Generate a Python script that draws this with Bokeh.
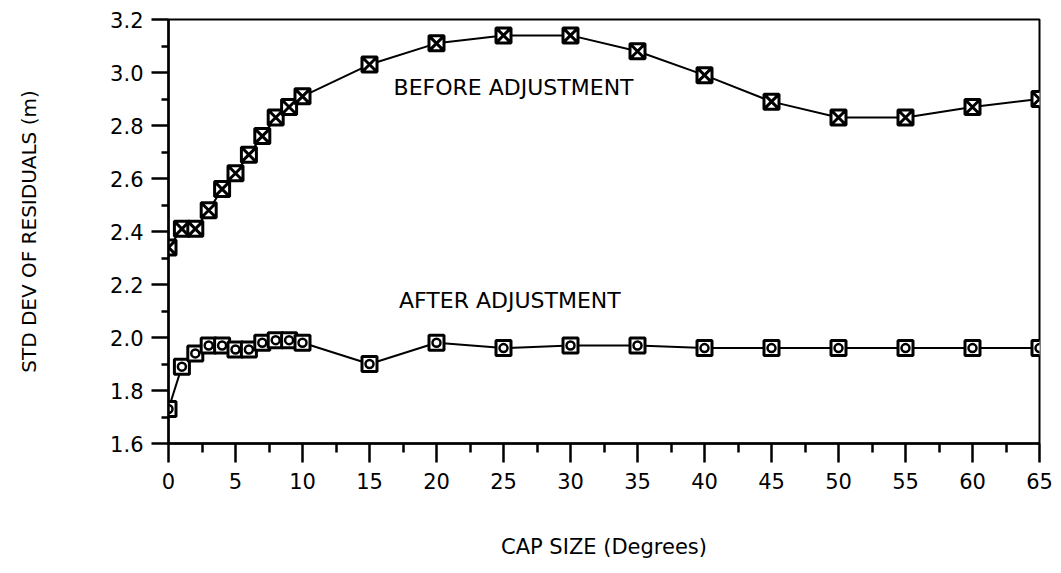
from bokeh.plotting import figure
from bokeh.models import FixedTicker, PrintfTickFormatter, Label, Range1d
from bokeh.embed import file_html
from bokeh.resources import INLINE

cap_size = [0, 1, 2, 3, 4, 5, 6, 7, 8, 9, 10, 15, 20, 25, 30, 35, 40, 45, 50, 55, 60, 65]
before_adj = [2.34, 2.41, 2.41, 2.48, 2.56, 2.62, 2.69, 2.76, 2.83, 2.87, 2.91, 3.03,
              3.11, 3.14, 3.14, 3.08, 2.99, 2.89, 2.83, 2.83, 2.87, 2.90]
after_adj = [1.73, 1.89, 1.94, 1.97, 1.97, 1.955, 1.955, 1.98, 1.99, 1.99, 1.98, 1.90,
             1.98, 1.96, 1.97, 1.97, 1.96, 1.96, 1.96, 1.96, 1.96, 1.96]
x_ticks = [0, 5, 10, 15, 20, 25, 30, 35, 40, 45, 50, 55, 60, 65]
x_minor = [2.5, 7.5, 12.5, 17.5, 22.5, 27.5, 32.5, 37.5, 42.5, 47.5, 52.5, 57.5, 62.5]
y_ticks = [1.6, 1.8, 2.0, 2.2, 2.4, 2.6, 2.8, 3.0, 3.2]
y_minor = [1.7, 1.9, 2.1, 2.3, 2.5, 2.7, 2.9, 3.1]
x_title = "CAP SIZE (Degrees)"
y_title = "STD DEV OF RESIDUALS (m)"
label_before = "BEFORE ADJUSTMENT"
label_after = "AFTER ADJUSTMENT"

FONT = "DejaVu Sans"

p = figure(width=1061, height=573, output_backend="svg", toolbar_location=None,
           x_range=Range1d(0, 65), y_range=Range1d(1.6, 3.2),
           min_border_left=168, min_border_right=22, min_border_top=19,
           min_border_bottom=130)
p.background_fill_color = "white"
p.border_fill_color = "white"
p.outline_line_color = "black"
p.outline_line_width = 2
p.grid.visible = False

p.xaxis.ticker = FixedTicker(ticks=x_ticks, minor_ticks=x_minor)
p.yaxis.ticker = FixedTicker(ticks=y_ticks, minor_ticks=y_minor)
p.yaxis.formatter = PrintfTickFormatter(format="%.1f")

for ax in (p.xaxis[0], p.yaxis[0]):
    ax.axis_line_width = 2.5
    ax.axis_line_color = "black"
    ax.major_tick_line_width = 2.5
    ax.minor_tick_line_width = 2.5
    ax.major_tick_in = 0
    ax.minor_tick_in = 0
    ax.major_label_text_font = FONT
    ax.major_label_text_color = "black"
    ax.axis_label_text_font = FONT
    ax.axis_label_text_font_style = "normal"
    ax.axis_label_text_color = "black"

p.xaxis.major_tick_out = 19
p.xaxis.minor_tick_out = 9
p.yaxis.major_tick_out = 17
p.yaxis.minor_tick_out = 7
p.xaxis.major_label_text_font_size = "21px"
p.yaxis.major_label_text_font_size = "21px"
p.xaxis.major_label_standoff = 10
p.yaxis.major_label_standoff = 8
p.xaxis.axis_label = x_title
p.yaxis.axis_label = y_title
p.xaxis.axis_label_text_font_size = "21px"
p.yaxis.axis_label_text_font_size = "20px"
p.xaxis.axis_label_standoff = 43
p.yaxis.axis_label_standoff = 66

p.line(cap_size, before_adj, line_color="black", line_width=2)
p.line(cap_size, after_adj, line_color="black", line_width=2)
p.scatter(cap_size, before_adj, marker="square_x", size=15, fill_color="white",
          line_color="black", line_width=3)
p.scatter(cap_size, after_adj, marker="square", size=15, fill_color="white",
          line_color="black", line_width=3)
p.scatter(cap_size, after_adj, marker="circle", size=8, fill_color="white",
          line_color="black", line_width=2.5)

p.add_layout(Label(x=16.8, y=2.945, text=label_before, text_font=FONT,
                   text_font_size="22px", text_baseline="middle", text_color="black"))
p.add_layout(Label(x=17.2, y=2.14, text=label_after, text_font=FONT,
                   text_font_size="22px", text_baseline="middle", text_color="black"))

open("out.html", "w").write(file_html(p, INLINE))
